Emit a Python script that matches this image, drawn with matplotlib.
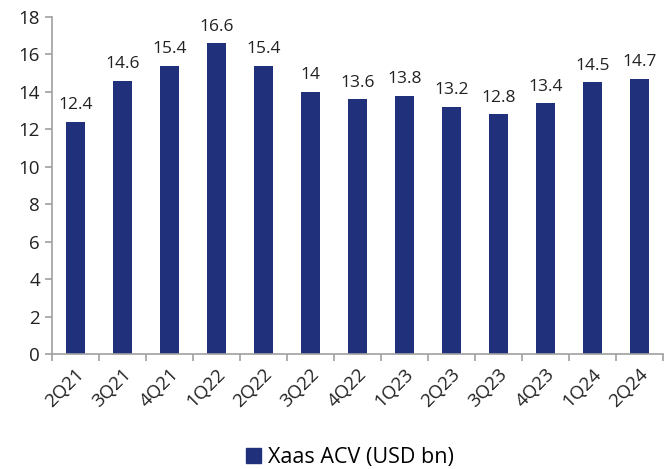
import numpy as np
import matplotlib.pyplot as plt
from matplotlib.patches import Patch

quarters = ["2Q21", "3Q21", "4Q21", "1Q22", "2Q22", "3Q22", "4Q22",
            "1Q23", "2Q23", "3Q23", "4Q23", "1Q24", "2Q24"]
acv = [12.4, 14.6, 15.4, 16.6, 15.4, 14, 13.6, 13.8, 13.2, 12.8, 13.4, 14.5, 14.7]
bar_label = [f"{v:g}" for v in acv]

navy = "#21307a"
grey = "#a0a0a0"

plt.rcParams['font.family'] = ['Open Sans', 'DejaVu Sans']

fig = plt.figure(figsize=(6.64, 4.69), dpi=100)
ax = fig.add_axes([0.078, 0.245, 0.92, 0.719])

x = np.arange(len(quarters))
bars = ax.bar(x, acv, width=0.4, color=navy, label="Xaas ACV (USD bn)")
for b, t in zip(bars, bar_label):
    ax.annotate(t, (b.get_x() + b.get_width() / 2, b.get_height()),
                xytext=(0, 6), textcoords="offset points",
                ha="center", va="bottom", fontsize=12.5, color="#222222")

ax.set_xlim(-0.5, len(quarters) - 0.5)
ax.set_ylim(0, 18)
ax.set_yticks(range(0, 19, 2))
ax.set_xticks(x)
ax.set_xticklabels(quarters, rotation=45, ha="right", rotation_mode="anchor")
ax.set_xticks(np.arange(-0.5, len(quarters), 1), minor=True)
ax.tick_params(axis="x", which="major", length=0, pad=8, labelsize=13.5, colors="#222222")
ax.tick_params(axis="x", which="minor", length=5, color=grey, width=1.2)
ax.tick_params(axis="y", length=5, color=grey, width=1.2, labelsize=13.5, labelcolor="#222222")

for s in ["top", "right"]:
    ax.spines[s].set_visible(False)
for s in ["left", "bottom"]:
    ax.spines[s].set_color(grey)
    ax.spines[s].set_linewidth(1.2)

fig.legend(handles=[Patch(color=navy, label="Xaas ACV (USD bn)")],
           loc="center", bbox_to_anchor=(0.527, 0.024), frameon=False,
           fontsize=15.5, handlelength=0.7, handleheight=0.7, handletextpad=0.3)

fig.savefig("out.png", dpi=100)
